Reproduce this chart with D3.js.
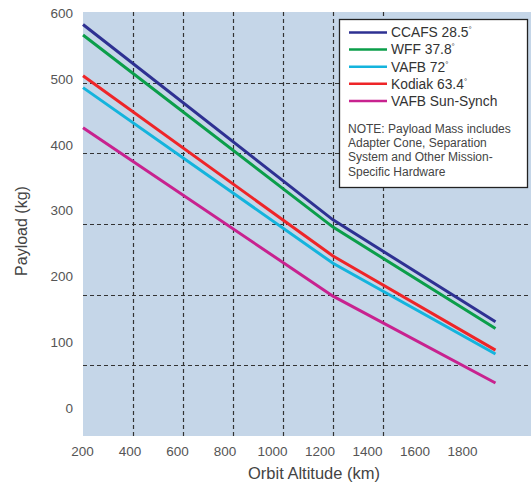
<!DOCTYPE html>
<html>

<head>
    <title>Payload vs Orbit Altitude</title>
    <script src="https://d3js.org/d3.v7.min.js"></script>
    <style>
        body {
            margin: 0;
            background: #fff;
        }

        svg text {
            font-family: "Liberation Sans", Arial, sans-serif;
        }

        .tick text {
            font-size: 13.5px;
            fill: #555;
        }

        .grid {
            stroke: #333;
            stroke-width: 1.2px;
            stroke-dasharray: 4 3;
        }

        .series {
            fill: none;
            stroke-width: 3px;
        }
    </style>
</head>

<body>
    <script>
        // altitudes (km) where each curve is read
        var altitudes = [200, 1200, 1850];

        var ccafs = [583, 286, 131];
        var wff = [567, 275, 121];
        var vafb72 = [487, 220, 82];
        var kodiak = [505, 231, 88];
        var vafbSun = [426, 170, 38];

        var names = ["CCAFS 28.5", "WFF 37.8", "VAFB 72", "Kodiak 63.4", "VAFB Sun-Synch"];
        var degree = [true, true, true, true, false];
        var colors = ["#2e3192", "#0b9e4a", "#14b4dd", "#ee2528", "#c8228f"];
        var values = [ccafs, wff, vafb72, kodiak, vafbSun];

        var xTicks = [200, 400, 600, 800, 1000, 1200, 1400, 1600, 1800];
        var yTicks = [0, 100, 200, 300, 400, 500, 600];
        var gridAltitudes = [400, 600, 800, 1000, 1200, 1400];
        var gridRows = [1, 2, 3, 4, 5];

        var noteLines = ["NOTE: Payload Mass includes", "Adapter Cone, Separation",
            "System and Other Mission-", "Specific Hardware"];

        var width = 531, height = 489;
        var plot = { left: 83, right: 531, top: 12, bottom: 436 };

        var svg = d3.select("body").append("svg")
            .attr("width", width)
            .attr("height", height);

        // scales
        var x = d3.scaleLinear().domain([200, 2000]).range([plot.left, plot.left + 450]);
        var xLabel = d3.scaleLinear().domain([200, 1800]).range([82, 462]);
        var y = d3.scaleLinear().domain([0, 600]).range([408, 13.3]);
        var yGrid = d3.scaleLinear().domain([0, 6]).range([plot.bottom, plot.top]);

        svg.append("rect")
            .attr("x", plot.left)
            .attr("y", plot.top)
            .attr("width", plot.right - plot.left)
            .attr("height", plot.bottom - plot.top)
            .attr("fill", "#c5d6e8");

        svg.selectAll(".vgrid")
            .data(gridAltitudes)
            .enter()
            .append("line")
            .attr("class", "grid")
            .attr("x1", d => Math.round(x(d)) + 0.5)
            .attr("x2", d => Math.round(x(d)) + 0.5)
            .attr("y1", plot.top)
            .attr("y2", plot.bottom);

        svg.selectAll(".hgrid")
            .data(gridRows)
            .enter()
            .append("line")
            .attr("class", "grid")
            .attr("x1", plot.left)
            .attr("x2", plot.right)
            .attr("y1", d => Math.round(yGrid(d)) + 0.5)
            .attr("y2", d => Math.round(yGrid(d)) + 0.5);

        // axes (labels only)
        var xAxis = svg.append("g")
            .attr("transform", "translate(0,443)")
            .call(d3.axisBottom(xLabel).tickValues(xTicks).tickSize(0).tickFormat(d3.format("d")));
        xAxis.select(".domain").remove();
        xAxis.selectAll("text").attr("dy", "0.71em");

        var yAxis = svg.append("g")
            .attr("transform", "translate(73,0)")
            .call(d3.axisLeft(y).tickValues(yTicks).tickSize(0).tickPadding(0));
        yAxis.select(".domain").remove();

        svg.append("text")
            .attr("x", 314)
            .attr("y", 479)
            .attr("text-anchor", "middle")
            .style("font-size", "16.5px")
            .style("fill", "#444")
            .text("Orbit Altitude (km)");

        svg.append("text")
            .attr("transform", "translate(27,231) rotate(-90)")
            .attr("text-anchor", "middle")
            .style("font-size", "16px")
            .style("fill", "#444")
            .text("Payload (kg)");

        // curves
        var line = d3.line()
            .x((d, i) => x(altitudes[i]))
            .y(d => y(d));

        svg.selectAll(".series")
            .data(values)
            .enter()
            .append("path")
            .attr("class", "series")
            .attr("d", line)
            .attr("stroke", (d, i) => colors[i]);

        // legend
        var legend = svg.append("g");
        legend.append("rect")
            .attr("x", 339.5)
            .attr("y", 19.5)
            .attr("width", 188)
            .attr("height", 168)
            .attr("fill", "#fff")
            .attr("stroke", "#222")
            .attr("stroke-width", 1.3);

        var item = legend.selectAll(".item")
            .data(names)
            .enter()
            .append("g")
            .attr("transform", (d, i) => "translate(349," + (32.5 + i * 17.1) + ")");

        item.append("line")
            .attr("x1", 0)
            .attr("x2", 38)
            .attr("stroke", (d, i) => colors[i])
            .attr("stroke-width", 2.5);

        var label = item.append("text")
            .attr("x", 42)
            .attr("y", 4.8)
            .style("font-size", "13.8px")
            .style("fill", "#333");
        label.append("tspan").text(d => d);
        label.filter((d, i) => degree[i])
            .append("tspan")
            .attr("dy", -5)
            .style("font-size", "8px")
            .text("°");

        legend.selectAll(".note")
            .data(noteLines)
            .enter()
            .append("text")
            .attr("x", 348)
            .attr("y", (d, i) => 132.5 + i * 14.4)
            .style("font-size", "12px")
            .style("fill", "#444")
            .text(d => d);
    </script>
</body>

</html>
